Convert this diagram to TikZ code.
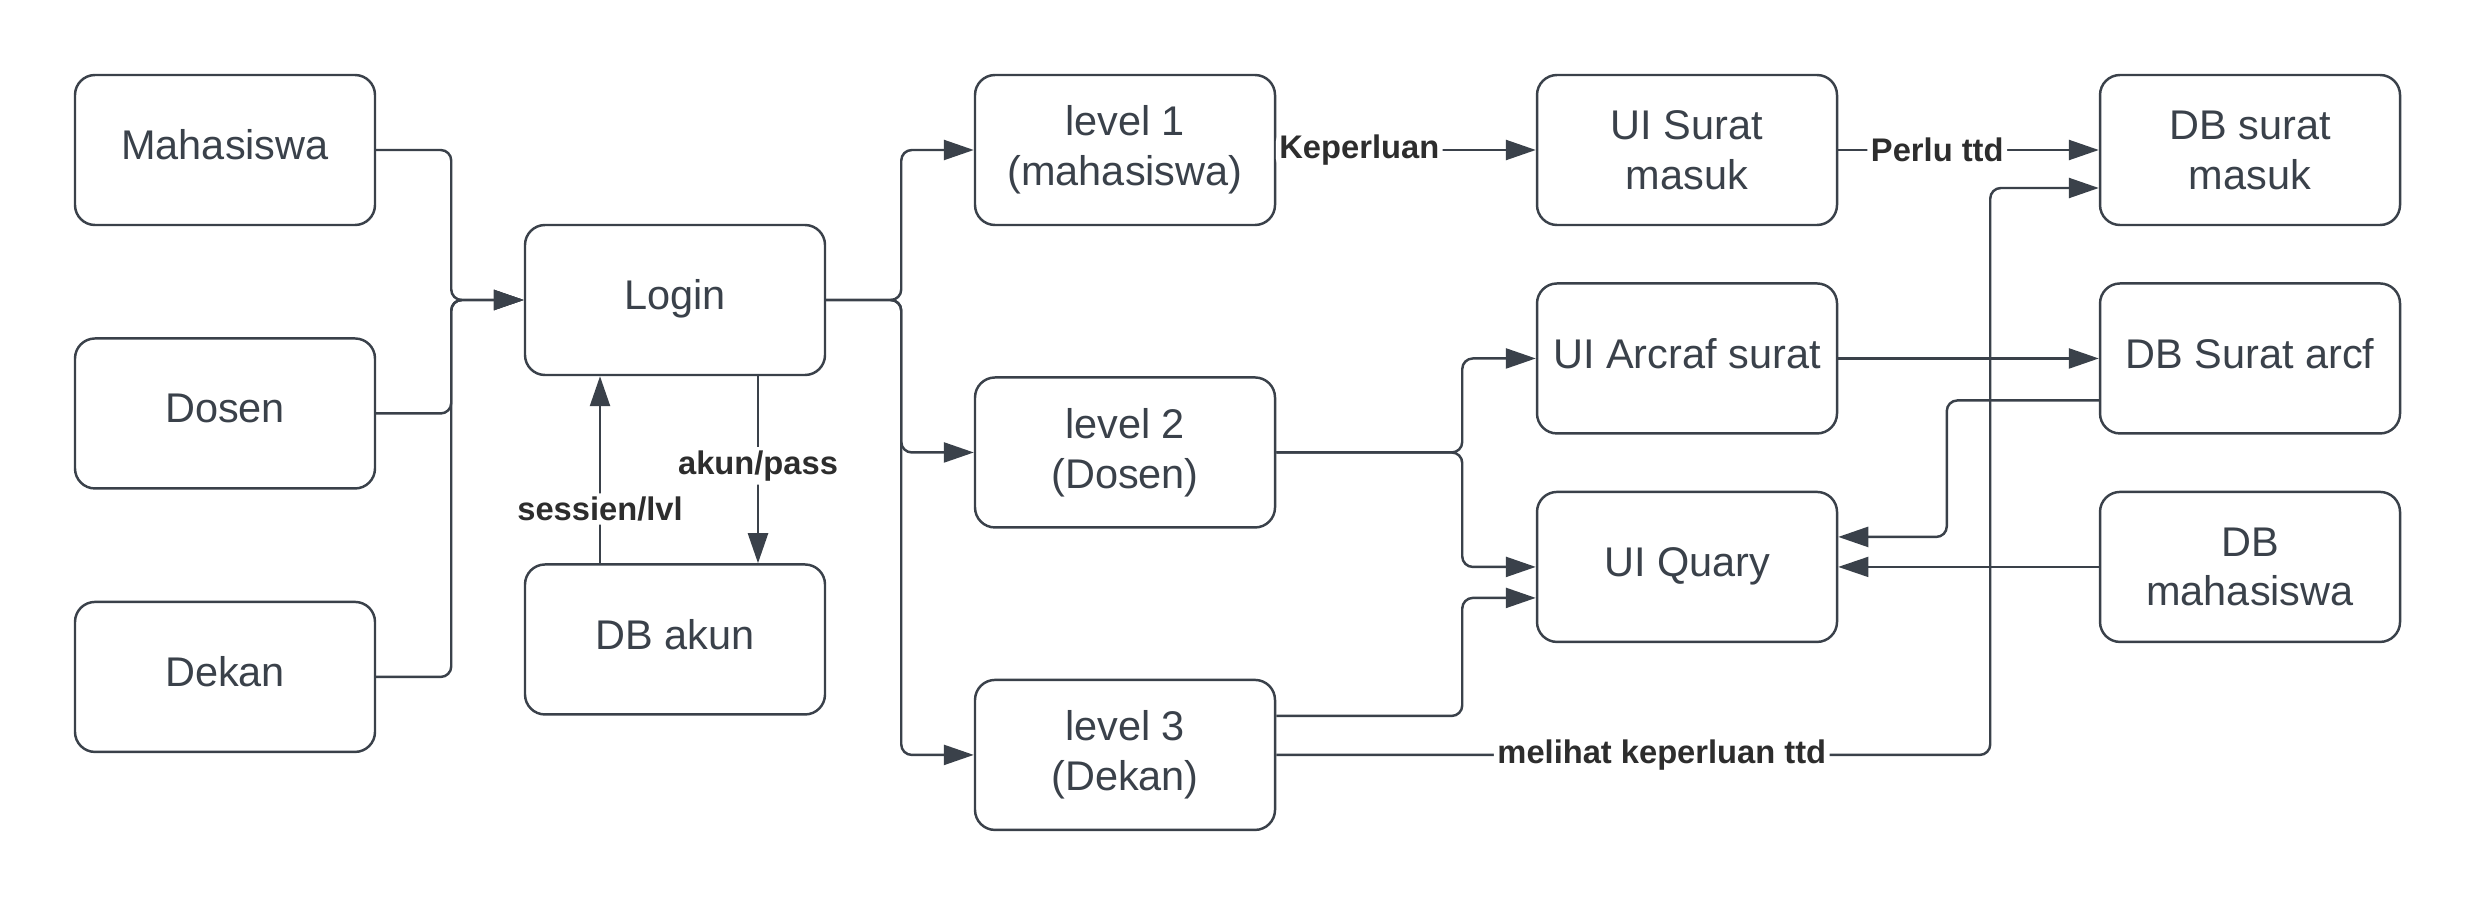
\documentclass[tikz,border=0pt]{standalone}
\usepackage{fontspec}
\setmainfont{Liberation Sans}
\usepackage{tikz}
\usetikzlibrary{arrows.meta, positioning, calc}
\usepackage{xcolor}
\definecolor{lucidline}{RGB}{58,65,74}
\definecolor{lucidtext}{RGB}{58,65,74}
\definecolor{lucidlabel}{RGB}{45,45,45}

\begin{document}
\begin{tikzpicture}[
    node distance=1.12cm and 1.5cm,
    >={Triangle[length=3mm, width=2mm]},
    every node/.style={font=\fontsize{11.8}{14.2}\selectfont},
    flowbox/.style={rectangle, draw=lucidline, line width=0.7pt, fill=white,
        minimum width=3cm, minimum height=1.5cm, rounded corners=0.2cm,
        align=center, text=lucidtext},
    onebox/.style={flowbox, text depth=0.3em},
    arrow/.style={->, line width=0.7pt, lucidline, rounded corners=3pt},
    thinarrow/.style={->, line width=0.45pt, lucidline},
    flowlabel/.style={font=\fontsize{9.3}{11}\selectfont\bfseries, text=lucidlabel,
        fill=white, inner sep=1pt},
]
\useasboundingbox (0,0) rectangle (24.75,9);

% === USERS ===
\node[onebox] at (2.25,7.5) (maha) {Mahasiswa};
\node[onebox, below=1.11cm of maha] (dosen) {Dosen};
\node[onebox, below=1.11cm of dosen] (dekan) {Dekan};

% === LOGIN ===
\node[onebox] at (6.75,6.0) (login) {Login};
\node[onebox, below=1.87cm of login] (dbakun) {DB akun};

% === LEVELS ===
\node[flowbox] at (11.25,7.5) (lvl1) {level 1\\(mahasiswa)};
\node[flowbox, below=1.5cm of lvl1] (lvl2) {level 2\\(Dosen)};
\node[flowbox, below=1.5cm of lvl2] (lvl3) {level 3\\(Dekan)};

% === UI ===
\node[flowbox] at (16.87,7.5) (uisurat) {UI Surat\\masuk};
\node[onebox, below=0.56cm of uisurat] (uiarcraf) {UI Arcraf surat};
\node[onebox, below=0.56cm of uiarcraf] (uiquary) {UI Quary};

% === DATABASES ===
\node[flowbox] at (22.5,7.5) (dbsurat) {DB surat\\masuk};
\node[onebox, below=0.56cm of dbsurat] (dbarcf) {DB Surat arcf};
\node[flowbox, below=0.56cm of dbarcf] (dbmhs) {DB\\mahasiswa};

% === ARROWS ===
% Users to login
\draw[arrow] (maha.east) -- ++(0.75,0) |- (login.west);
\draw[arrow] (dosen.east) -- ++(0.75,0) |- (login.west);
\draw[arrow] (dekan.east) -- ++(0.75,0) |- (login.west);

% Login and account database
\draw[arrow] ([xshift=-0.75cm]dbakun.north) --
    node[flowlabel, pos=0.29] {sessien/lvl} ([xshift=-0.75cm]login.south);
\draw[arrow] ([xshift=0.83cm]login.south) --
    node[flowlabel, pos=0.48] {akun/pass} ([xshift=0.83cm]dbakun.north);

% Login to levels
\draw[arrow] (login.east) -- ++(0.75,0) |- (lvl1.west);
\draw[arrow] (login.east) -- ++(0.75,0) |- (lvl2.west);
\draw[arrow] (login.east) -- ++(0.75,0) |- (lvl3.west);

% Level 1 to incoming letters
\draw[arrow] (lvl1.east) -- node[flowlabel, pos=0.32] {Keperluan} (uisurat.west);
\draw[arrow] (uisurat.east) -- node[flowlabel, pos=0.38] {Perlu ttd} (dbsurat.west);

% Level 2 and level 3 to UI
\draw[arrow] (lvl2.east) -- ++(1.86,0) |- (uiarcraf.west);
\draw[arrow] (lvl2.east) -- ++(1.86,0) |- (uiquary.west);
\draw[arrow] ([yshift=0.39cm]lvl3.east) -- ++(1.86,0) |- ([yshift=-0.31cm]uiquary.west);
\draw[arrow] (lvl3.east) -- node[flowlabel, pos=0.54] {melihat keperluan ttd}
    ++(7.14,0) |- ([yshift=-0.38cm]dbsurat.west);

% UI and databases
\draw[arrow] (uiarcraf.east) -- (dbarcf.west);
\draw[arrow] ([yshift=-0.42cm]dbarcf.west) -- ++(-1.52,0) |- ([yshift=0.3cm]uiquary.east);
\draw[thinarrow] (dbmhs.west) -- (uiquary.east);

\end{tikzpicture}
\end{document}
